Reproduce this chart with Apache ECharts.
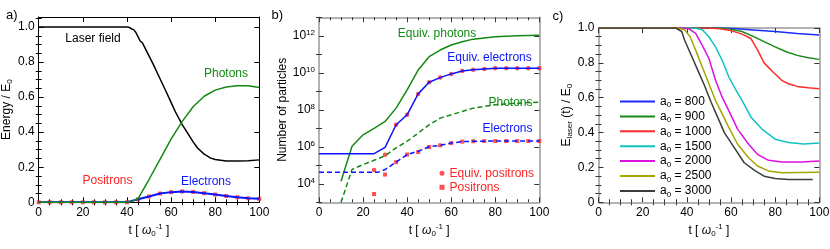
<!DOCTYPE html>
<html><head><meta charset="utf-8">
<script src="https://cdn.jsdelivr.net/npm/echarts@6/dist/echarts.min.js"></script>
<style>html,body{margin:0;padding:0;background:#fff}#c{width:830px;height:249px}</style>
</head><body><div id="c"></div><script>
// ---------------- DATA ----------------
// common tick labels
const xTickLabels = [0, 20, 40, 60, 80, 100];
const yTickLabelsLin = [0, 0.2, 0.4, 0.6, 0.8, 1.0];
const yTickExponentsB = [4, 6, 8, 10, 12];

// Panel a: energy fractions
const tLaserA = [0, 38, 40, 41, 42, 43, 44, 45, 46, 47, 48, 50, 52, 55, 58, 60, 62, 65, 68, 70, 72, 75, 78, 80, 85, 90, 95, 100];
const eLaserA = [1, 1, 1, 0.998, 0.99, 0.985, 0.97, 0.945, 0.92, 0.91, 0.885, 0.835, 0.785, 0.705, 0.625, 0.57, 0.515, 0.445, 0.385, 0.345, 0.31, 0.275, 0.252, 0.244, 0.236, 0.235, 0.237, 0.242];
const tPhotonsA = [0, 40, 42, 45, 50, 55, 60, 65, 70, 75, 80, 85, 90, 95, 100];
const ePhotonsA = [0, 0, 0.005, 0.02, 0.13, 0.245, 0.36, 0.46, 0.545, 0.605, 0.64, 0.658, 0.665, 0.665, 0.655];
const tParticlesA = [0, 5, 10, 15, 20, 25, 30, 35, 40, 45, 50, 55, 60, 65, 70, 75, 80, 85, 90, 95, 100];
const eElectronsA = [0, 0, 0, 0, 0, 0, 0, 0, 0, 0.017, 0.033, 0.05, 0.058, 0.062, 0.059, 0.052, 0.044, 0.036, 0.029, 0.023, 0.02];
const ePositronsA = [0, 0, 0, 0, 0, 0, 0, 0, 0, 0.017, 0.033, 0.05, 0.058, 0.062, 0.059, 0.052, 0.044, 0.036, 0.029, 0.023, 0.02];

// Panel b: log10(number of particles)
const tEqPhotonsB = [10, 15, 20, 25, 30, 35, 40, 45, 50, 55, 60, 65, 70, 80, 90, 100];
const lgEqPhotonsB = [4.14, 6.03, 6.65, 7.0, 7.37, 8.09, 9.08, 10.15, 10.87, 11.23, 11.5, 11.68, 11.82, 11.95, 12.0, 12.03];
const tEqElectronsB = [0, 25, 30, 35, 40, 45, 50, 55, 60, 65, 70, 75, 80, 90, 100];
const lgEqElectronsB = [5.63, 5.63, 5.97, 7.19, 7.73, 8.86, 9.49, 9.74, 9.94, 10.1, 10.17, 10.21, 10.24, 10.24, 10.24];
const tPhotonsB = [10, 15, 20, 25, 30, 35, 40, 45, 50, 55, 60, 70, 80, 90, 100];
const lgPhotonsB = [3.0, 4.78, 5.04, 5.27, 5.52, 5.94, 6.3, 6.74, 7.19, 7.55, 7.73, 8.09, 8.27, 8.36, 8.41];
const tElectronsB = [0, 27, 30, 35, 40, 45, 50, 55, 60, 65, 70, 80, 90, 100];
const lgElectronsB = [4.63, 4.63, 4.77, 5.17, 5.58, 5.76, 6.0, 6.08, 6.2, 6.28, 6.3, 6.31, 6.31, 6.31];
const tPositronsB = [25, 30, 35, 40, 45, 50, 55, 60, 65, 70, 75, 80, 85, 90, 95, 100];
const lgEqPositronsB = [4.75, 5.57, 7.19, 7.73, 8.86, 9.49, 9.74, 9.94, 10.1, 10.17, 10.21, 10.24, 10.24, 10.24, 10.24, 10.24];
const lgPositronsB = [3.45, 4.5, 5.17, 5.58, 5.72, 5.99, 6.08, 6.2, 6.28, 6.3, 6.31, 6.31, 6.31, 6.31, 6.31, 6.31];

// Panel c: laser energy for several a0
const a0Labels = ['800', '900', '1000', '1500', '2000', '2500', '3000'];
const tC800 = [0, 55, 60, 70, 80, 90, 100];
const eC800 = [1, 1, 0.998, 0.989, 0.98, 0.969, 0.96];
const tC900 = [0, 55, 60, 65, 70, 75, 80, 85, 90, 95, 100];
const eC900 = [1, 1, 0.993, 0.98, 0.952, 0.922, 0.892, 0.864, 0.843, 0.829, 0.82];
const tC1000 = [0, 50, 55, 60, 65, 69, 72, 75, 79, 83, 86, 90, 95, 100];
const eC1000 = [1, 1, 0.995, 0.985, 0.965, 0.94, 0.875, 0.8, 0.748, 0.7, 0.68, 0.665, 0.657, 0.652];
const tC1500 = [0, 42, 44, 47, 50, 53, 56, 59, 62, 65, 69, 74, 80, 86, 93, 100];
const eC1500 = [1, 1, 0.998, 0.99, 0.95, 0.892, 0.815, 0.72, 0.65, 0.585, 0.49, 0.42, 0.362, 0.343, 0.335, 0.34];
const tC2000 = [0, 38, 41, 44, 47, 50, 53, 56, 59, 63, 68, 72, 77, 83, 92, 100];
const eC2000 = [1, 1, 0.995, 0.969, 0.9, 0.825, 0.7, 0.603, 0.526, 0.42, 0.333, 0.275, 0.241, 0.231, 0.231, 0.237];
const tC2500 = [0, 36, 39, 41.5, 44, 47, 50, 53, 56, 59, 63, 68, 72, 77, 83, 100];
const eC2500 = [1, 1, 0.99, 0.95, 0.873, 0.776, 0.68, 0.584, 0.507, 0.43, 0.333, 0.256, 0.208, 0.18, 0.17, 0.173];
const tC3000 = [0, 35, 37.7, 39, 42, 45, 48, 51, 54, 57, 62, 66, 71, 75, 80, 86, 97];
const eC3000 = [1, 1, 0.98, 0.93, 0.844, 0.757, 0.67, 0.574, 0.487, 0.4, 0.304, 0.227, 0.18, 0.15, 0.137, 0.131, 0.131];

// ---------------- CHART ----------------
const FONT = '"Liberation Sans", Arial, Helvetica, sans-serif';
const zip = (xs, ys) => xs.map((x, i) => [x, ys[i]]);
const range = (a, b, s) => { const r = []; for (let v = a; v <= b + 1e-9; v += s) r.push(+v.toFixed(4)); return r; };
const notIn = (arr, ref) => arr.filter(v => !ref.some(r => Math.abs(r - v) < 1e-6));

const xMinor = notIn(range(0, 100, 5), xTickLabels);
const yMinorLin = notIn(range(0, 1.05, 0.05), yTickLabelsLin);
const yMinorB = notIn(range(3, 13, 1), yTickExponentsB);

const RICH = {
  n: {fontSize: 12, color: '#000', fontFamily: FONT},
  w: {fontSize: 12, color: '#000', fontFamily: FONT, fontStyle: 'italic'},
  s: {fontSize: 8, color: '#000', fontFamily: FONT, padding: [7, 0, 0, 0]},
  p: {fontSize: 8, color: '#000', fontFamily: FONT, padding: [0, 0, 7, 0]},
  b: {fontSize: 12, color: '#000', fontFamily: FONT},
  e: {fontSize: 8, color: '#000', fontFamily: FONT, padding: [0, 0, 7, 0]}
};

function axisSet(dim, g, o) {
  const posMain = dim === 'x' ? 'bottom' : 'left';
  const posMirror = dim === 'x' ? 'top' : 'right';
  const base = {gridIndex: g, type: 'value', min: o.min, max: o.max, splitLine: {show: false}, axisPointer: {show: false}};
  const tickStyle = {color: o.tickColor, width: 1};
  const line = {show: true, onZero: false, lineStyle: {color: o.color, width: o.lw}};
  return [
    Object.assign({}, base, {
      position: posMain, axisLine: line,
      axisTick: {show: true, inside: true, length: 5, customValues: o.major, lineStyle: tickStyle},
      axisLabel: {show: true, customValues: o.major, formatter: o.fmt, color: '#000', fontSize: 12, fontFamily: FONT, margin: 4, rich: RICH},
      name: o.name, nameLocation: 'middle', nameGap: o.nameGap, nameRotate: dim === 'y' ? 90 : 0,
      nameTextStyle: {rich: RICH, fontSize: 12, fontFamily: FONT, color: '#000'}
    }),
    Object.assign({}, base, {
      position: posMain, axisLine: {show: false},
      axisTick: {show: true, inside: true, length: 3, customValues: o.minor, lineStyle: tickStyle},
      axisLabel: {show: false}
    }),
    Object.assign({}, base, {
      position: posMirror, axisLine: line,
      axisTick: {show: true, inside: true, length: 5, customValues: o.major, lineStyle: tickStyle},
      axisLabel: {show: false}
    }),
    Object.assign({}, base, {
      position: posMirror, axisLine: {show: false},
      axisTick: {show: true, inside: true, length: 3, customValues: o.minor, lineStyle: tickStyle},
      axisLabel: {show: false}
    })
  ];
}

const tName = '{n|t [ }{w|ω}{s|0}{p|-1}{n| ]}';
const linFmt = v => (v === 0 ? '0' : v.toFixed(1));
const expFmt = v => '{b|10}{e|' + v + '}';

const xCommon = {min: 0, max: 100, major: xTickLabels, minor: xMinor, name: tName, nameGap: 20};
const xAxes = [].concat(
  axisSet('x', 0, Object.assign({}, xCommon, {color: '#000', lw: 1, tickColor: '#000'})),
  axisSet('x', 1, Object.assign({}, xCommon, {color: '#999', lw: 1.5, tickColor: '#333'})),
  axisSet('x', 2, Object.assign({}, xCommon, {color: '#999', lw: 1.5, tickColor: '#333'}))
);
const yAxes = [].concat(
  axisSet('y', 0, {min: 0, max: 1.057, major: yTickLabelsLin, minor: yMinorLin, fmt: linFmt, color: '#000', lw: 1, tickColor: '#000', name: '{n|Energy / E}{s|0}', nameGap: 23}),
  axisSet('y', 1, {min: 3, max: 13, major: yTickExponentsB, minor: yMinorB, fmt: expFmt, color: '#999', lw: 1.5, tickColor: '#333', name: '{n|Number of particles}', nameGap: 27}),
  axisSet('y', 2, {min: 0, max: 1, major: yTickLabelsLin, minor: yMinorLin, fmt: linFmt, color: '#999', lw: 1.5, tickColor: '#333', name: '{n|E}{s|laser}{n| (t) / E}{s|0}', nameGap: 24})
);

const GREEN = '#128a12', BLUE = '#0a14ff', RED = '#ff2424';
const line = (xi, data, color, extra) => Object.assign({
  type: 'line', xAxisIndex: xi, yAxisIndex: xi, data: data, symbol: 'none', showSymbol: false,
  lineStyle: {color: color, width: 1.5}, itemStyle: {color: color}, silent: true
}, extra || {});

const cColors = ['#1a2cff', '#178a17', '#ff2a2a', '#12c2c2', '#dd10dd', '#a5a500', '#3c3c3c'];
const cT = [tC800, tC900, tC1000, tC1500, tC2000, tC2500, tC3000];
const cE = [eC800, eC900, eC1000, eC1500, eC2000, eC2500, eC3000];

const series = [
  line(0, zip(tLaserA, eLaserA), '#000'),
  line(0, zip(tParticlesA, eElectronsA), BLUE, {lineStyle: {color: BLUE, width: 2}}),
  line(0, zip(tPhotonsA, ePhotonsA), GREEN),
  {type: 'scatter', xAxisIndex: 0, yAxisIndex: 0, data: zip(tParticlesA, ePositronsA), symbol: 'rect', symbolSize: 4, itemStyle: {color: RED}, silent: true},

  line(4, zip(tEqPhotonsB, lgEqPhotonsB), GREEN),
  line(4, zip(tEqElectronsB, lgEqElectronsB), BLUE),
  line(4, zip(tPhotonsB, lgPhotonsB), GREEN, {lineStyle: {color: GREEN, width: 1.5, type: [5, 3]}}),
  line(4, zip(tElectronsB, lgElectronsB), BLUE, {lineStyle: {color: BLUE, width: 1.5, type: [5, 3]}}),
  {name: 'Equiv. positrons', type: 'scatter', xAxisIndex: 4, yAxisIndex: 4, data: zip(tPositronsB, lgEqPositronsB), symbol: 'circle', symbolSize: 4.5, itemStyle: {color: RED}, silent: true},
  {name: 'Positrons', type: 'scatter', xAxisIndex: 4, yAxisIndex: 4, data: zip(tPositronsB, lgPositronsB), symbol: 'rect', symbolSize: 4, itemStyle: {color: RED}, silent: true}
].concat(a0Labels.map((a, i) => line(8, zip(cT[i], cE[i]), cColors[i], {name: a})));

const txt = (x, y, text, color, align, size) => ({
  type: 'text', x: x, y: y, silent: true,
  style: {text: text, fill: color, font: (size || 12) + 'px ' + FONT, align: align || 'center', verticalAlign: 'middle'}
});

const chart = echarts.init(document.getElementById('c'), null, {renderer: 'canvas'});
chart.setOption({
  animation: false,
  backgroundColor: '#fff',
  grid: [
    {left: 38.7, top: 17, width: 220.6, height: 185.3, outerBoundsMode: 'none'},
    {left: 319, top: 17.3, width: 220.3, height: 185, outerBoundsMode: 'none'},
    {left: 598.5, top: 28, width: 220.8, height: 174.3, outerBoundsMode: 'none'}
  ],
  xAxis: xAxes,
  yAxis: yAxes,
  legend: [
    {data: ['Equiv. positrons', 'Positrons'], orient: 'vertical', left: 434.5, top: 161.3, itemWidth: 5, itemHeight: 5, itemGap: 0, selectedMode: false,
     textStyle: {color: RED, fontSize: 12, fontFamily: FONT, lineHeight: 14}},
    {data: a0Labels, orient: 'vertical', left: 615, top: 89.5, itemWidth: 35, itemHeight: 2, itemGap: 0.4, selectedMode: false, icon: 'rect',
     formatter: n => '{n|a}{s|0}{n| = ' + n + '}',
     textStyle: {fontSize: 12, fontFamily: FONT, color: '#000', lineHeight: 14,
       rich: {n: {fontSize: 12, fontFamily: FONT, color: '#000', lineHeight: 14}, s: {fontSize: 8, fontFamily: FONT, color: '#000', padding: [7, 0, 0, 0]}}}}
  ],
  graphic: [
    txt(6, 15, 'a)', '#000', 'left', 13),
    txt(271.5, 15, 'b)', '#000', 'left', 13),
    txt(552.5, 16, 'c)', '#000', 'left', 13),
    txt(93, 38.5, 'Laser field', '#000'),
    txt(226, 74, 'Photons', GREEN),
    txt(107.5, 180.5, 'Positrons', RED),
    txt(206, 182, 'Electrons', BLUE),
    txt(437, 33.5, 'Equiv. photons', GREEN),
    txt(489.5, 57.5, 'Equiv. electrons', BLUE),
    txt(510.5, 102.7, 'Photons', GREEN),
    txt(507.5, 128.3, 'Electrons', BLUE)
  ],
  series: series
});
</script></body></html>
